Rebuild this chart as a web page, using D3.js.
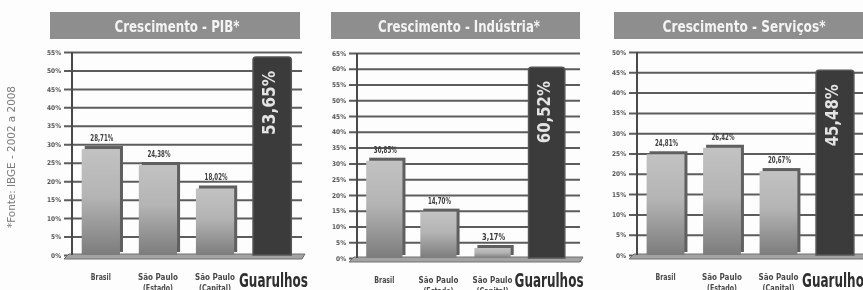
<!DOCTYPE html>
<html>
<head>
<meta charset="utf-8">
<script src="https://cdn.jsdelivr.net/npm/d3@7"></script>
<style>
  body { margin: 0; background: #fdfdfd; }
  svg { display: block; }
  text { font-family: "Liberation Sans Narrow", "DejaVu Sans Condensed", "DejaVu Sans", sans-serif; font-weight: bold; font-stretch: condensed; }
</style>
</head>
<body>
<script>
const categories = ["Brasil", "São Paulo (Estado)", "São Paulo (Capital)", "Guarulhos"];
const catLine1 = ["Brasil", "São Paulo", "São Paulo", "Guarulhos"];
const catLine2 = ["", "(Estado)", "(Capital)", ""];

const titles = ["Crescimento - PIB*", "Crescimento - Indústria*", "Crescimento - Serviços*"];
const pibValues = [28.71, 24.38, 18.02, 53.65];
const industriaValues = [30.85, 14.70, 3.17, 60.52];
const servicosValues = [24.81, 26.42, 20.67, 45.48];
const pibTicks = [0, 5, 10, 15, 20, 25, 30, 35, 40, 45, 50, 55];
const industriaTicks = [0, 5, 10, 15, 20, 25, 30, 35, 40, 45, 50, 55, 60, 65];
const servicosTicks = [0, 5, 10, 15, 20, 25, 30, 35, 40, 45, 50];
const source = "*Fonte: IBGE - 2002 a 2008";

const width = 863, height = 290;

const svg = d3.select("body").append("svg")
    .attr("width", width)
    .attr("height", height);

const defs = svg.append("defs");
const grad = defs.append("linearGradient")
    .attr("id", "barGrad").attr("x1", 0).attr("y1", 0).attr("x2", 0).attr("y2", 1);
grad.append("stop").attr("offset", "0%").attr("stop-color", "#c2c2c2");
grad.append("stop").attr("offset", "45%").attr("stop-color", "#b4b4b4");
grad.append("stop").attr("offset", "100%").attr("stop-color", "#7c7c7c");
defs.append("filter").attr("id", "soft")
    .append("feGaussianBlur").attr("stdDeviation", 0.5);

const root = svg.append("g").attr("filter", "url(#soft)");

// source note on the left
root.append("text")
    .attr("transform", "translate(15,157) rotate(-90)")
    .attr("text-anchor", "middle")
    .attr("textLength", 142)
    .attr("lengthAdjust", "spacingAndGlyphs")
    .style("font-size", "10px")
    .style("font-weight", "normal")
    .attr("fill", "#7a7a7a")
    .text(source);

const panels = [
    { title: titles[0], values: pibValues, ticks: pibTicks, axisX: 72, right: 301, gridRight: 302,
      head: [50, 300], y0: 255, yTop: 52, titleW: 125, rotW: 64 },
    { title: titles[1], values: industriaValues, ticks: industriaTicks, axisX: 357, right: 574, gridRight: 580,
      head: [331, 580], y0: 258, yTop: 53, titleW: 162, rotW: 62 },
    { title: titles[2], values: servicosValues, ticks: servicosTicks, axisX: 637, right: 863.5, gridRight: 863,
      head: [614, 870], y0: 255, yTop: 52, titleW: 163, rotW: 62 }
];

const fmt = v => v.toFixed(2).replace(".", ",") + "%";
const smallW = { "Brasil": 20, "São Paulo": 40, "(Estado)": 30, "(Capital)": 32 };

panels.forEach((p, pi) => {
    const g = root.append("g");

    const x = d3.scaleBand()
        .domain(categories)
        .range([p.axisX, p.right])
        .paddingInner(0.33)
        .paddingOuter(0.17);

    const y = d3.scaleLinear()
        .domain([0, d3.max(p.ticks)])
        .range([p.y0, p.yTop]);

    // header
    g.append("rect")
        .attr("x", p.head[0]).attr("y", 12)
        .attr("width", p.head[1] - p.head[0]).attr("height", 27)
        .attr("fill", "#8e8e8e");
    g.append("text")
        .attr("x", [177, 459, 744][pi])
        .attr("y", 32)
        .attr("text-anchor", "middle")
        .attr("textLength", p.titleW)
        .attr("lengthAdjust", "spacingAndGlyphs")
        .attr("fill", "#f4f4f4")
        .style("font-size", "16px")
        .text(p.title);

    // grid + ticks
    const axis = d3.axisLeft(y)
        .tickValues(p.ticks)
        .tickSize(-(p.gridRight - p.axisX + 8))
        .tickFormat(d => d + "%");
    const ax = g.append("g")
        .attr("transform", `translate(${p.axisX - 8},0)`)
        .call(axis);
    ax.select(".domain").remove();
    ax.selectAll(".tick line").attr("stroke", "#5c5c5c").attr("stroke-width", 2);
    ax.selectAll(".tick text")
        .attr("x", -3)
        .attr("fill", "#555")
        .style("font-size", "6.5px");

    // floor
    g.append("polygon")
        .attr("points", [[p.axisX - 8, p.y0 + 4], [p.gridRight, p.y0 + 4], [p.gridRight + 3, p.y0 - 1], [p.axisX - 3, p.y0 - 1]].map(d => d.join(",")).join(" "))
        .attr("fill", "#a3a3a3")
        .attr("stroke", "#707070")
        .attr("stroke-width", 1);

    // y axis line
    g.append("line")
        .attr("x1", p.axisX).attr("x2", p.axisX)
        .attr("y1", y(d3.max(p.ticks))).attr("y2", p.y0)
        .attr("stroke", "#4a4a4a").attr("stroke-width", 2);

    const data = categories.map((c, i) => ({ cat: c, value: p.values[i], i: i }));
    const light = data.filter(d => d.i < 3);
    const dark = data.filter(d => d.i === 3);

    // 3D back of light bars
    g.selectAll(".back").data(light).enter().append("rect")
        .attr("x", d => x(d.cat) + 3)
        .attr("y", d => y(d.value) - 3)
        .attr("width", x.bandwidth())
        .attr("height", d => p.y0 - y(d.value))
        .attr("fill", "#5e5e5e");
    g.selectAll(".bar").data(light).enter().append("rect")
        .attr("x", d => x(d.cat))
        .attr("y", d => y(d.value))
        .attr("width", x.bandwidth())
        .attr("height", d => p.y0 - y(d.value))
        .attr("fill", "url(#barGrad)");
    g.selectAll(".val").data(light).enter().append("text")
        .attr("x", d => x(d.cat) + x.bandwidth() / 2 + 1)
        .attr("y", d => y(d.value) - 8)
        .attr("text-anchor", "middle")
        .attr("textLength", 23)
        .attr("lengthAdjust", "spacingAndGlyphs")
        .attr("fill", "#3c3c3c")
        .style("font-size", "9px")
        .text(d => fmt(d.value));

    // Guarulhos bar
    g.selectAll(".gbar").data(dark).enter().append("path")
        .attr("d", d => {
            const x0 = x(d.cat), w = x.bandwidth(), t = y(d.value), r = 3;
            return `M${x0},${p.y0}V${t + r}Q${x0},${t} ${x0 + r},${t}H${x0 + w - r}Q${x0 + w},${t} ${x0 + w},${t + r}V${p.y0}Z`;
        })
        .attr("fill", "#3b3b3b")
        .attr("stroke", "#555")
        .attr("stroke-width", 1.5);
    g.selectAll(".gval").data(dark).enter().append("text")
        .attr("transform", d => `translate(${x(d.cat) + x.bandwidth() / 2 - 2},${y(d.value) + 14}) rotate(-90)`)
        .attr("text-anchor", "end")
        .attr("dominant-baseline", "middle")
        .attr("textLength", p.rotW)
        .attr("lengthAdjust", "spacingAndGlyphs")
        .attr("fill", "#e4e4e4")
        .style("font-size", "17px")
        .text(d => fmt(d.value));

    // category labels
    const labY = pi === 1 ? 283 : 280;
    g.selectAll(".cat").data(light).enter().append("text")
        .attr("x", d => x(d.cat) + x.bandwidth() / 2)
        .attr("y", labY)
        .attr("text-anchor", "middle")
        .attr("textLength", d => smallW[catLine1[d.i]])
        .attr("lengthAdjust", "spacingAndGlyphs")
        .attr("fill", "#4a4a4a")
        .style("font-size", "9px")
        .text(d => catLine1[d.i]);
    g.selectAll(".cat2").data(light.filter(d => catLine2[d.i])).enter().append("text")
        .attr("x", d => x(d.cat) + x.bandwidth() / 2)
        .attr("y", labY + 11)
        .attr("text-anchor", "middle")
        .attr("textLength", d => smallW[catLine2[d.i]])
        .attr("lengthAdjust", "spacingAndGlyphs")
        .attr("fill", "#4a4a4a")
        .style("font-size", "9px")
        .text(d => catLine2[d.i]);
    g.selectAll(".gcat").data(dark).enter().append("text")
        .attr("x", d => x(d.cat) - 14)
        .attr("y", 287)
        .attr("textLength", 69)
        .attr("lengthAdjust", "spacingAndGlyphs")
        .attr("fill", "#2e2e2e")
        .style("font-size", "19px")
        .text(d => catLine1[d.i]);
});
</script>
</body>
</html>
